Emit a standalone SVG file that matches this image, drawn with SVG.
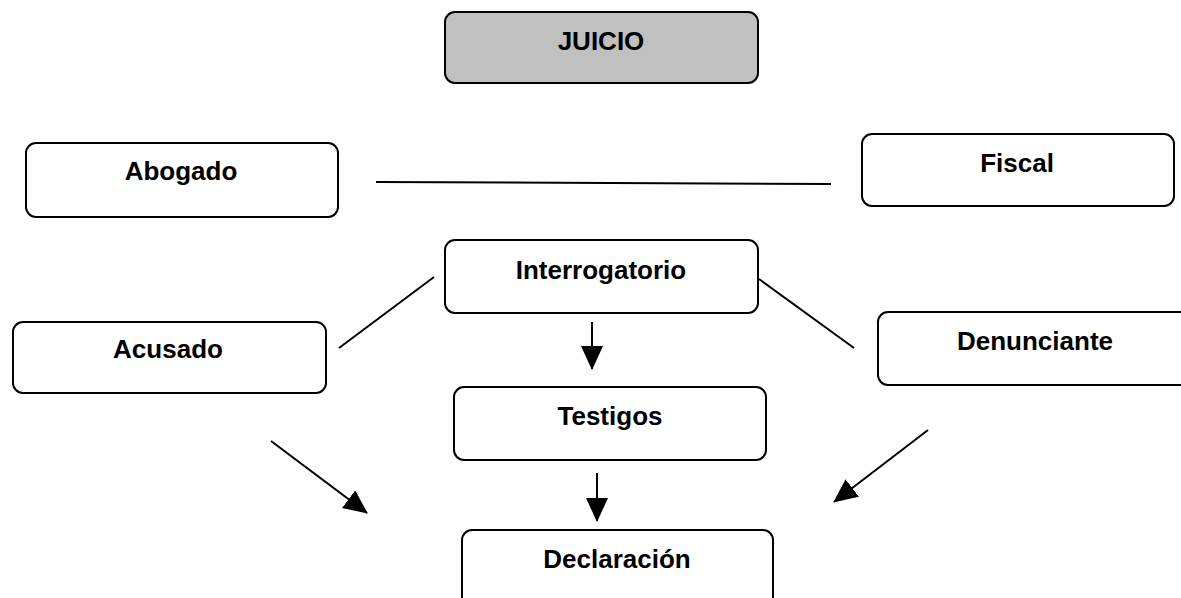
<svg xmlns="http://www.w3.org/2000/svg" width="1181" height="598" viewBox="0 0 1181 598">
  <style>
    .box { fill: #ffffff; stroke: #000000; stroke-width: 2; }
    .grey { fill: #c0c0c0; }
    .lbl { font-family: "Liberation Sans", Arial, sans-serif; font-weight: bold; font-size: 26px; fill: #000000; text-anchor: middle; }
    .ln { stroke: #000000; stroke-width: 2; fill: none; }
  </style>
  <defs>
    <marker id="ah" markerUnits="userSpaceOnUse" markerWidth="26" markerHeight="24" refX="23" refY="11" orient="auto">
      <path d="M0,0 L24,11 L0,22 z" fill="#000000"/>
    </marker>
  </defs>
  <rect width="1181" height="598" fill="#ffffff"/>

  <g id="connectors">
    <line class="ln" x1="376" y1="182" x2="831" y2="184"/>
    <line class="ln" x1="434" y1="277" x2="339" y2="348"/>
    <line class="ln" x1="759" y1="279" x2="854" y2="348"/>
    <line class="ln" x1="592" y1="322" x2="592" y2="369" marker-end="url(#ah)"/>
    <line class="ln" x1="597" y1="473" x2="597" y2="521" marker-end="url(#ah)"/>
    <line class="ln" x1="271" y1="441" x2="367" y2="513" marker-end="url(#ah)"/>
    <line class="ln" x1="928" y1="430" x2="834" y2="502" marker-end="url(#ah)"/>
  </g>

  <g id="juicio">
    <rect class="box grey" x="445" y="12" width="313" height="71" rx="10"/>
    <text class="lbl" x="601" y="50">JUICIO</text>
  </g>
  <g id="abogado">
    <rect class="box" x="26" y="143" width="312" height="74" rx="10"/>
    <text class="lbl" x="181" y="180">Abogado</text>
  </g>
  <g id="fiscal">
    <rect class="box" x="862" y="134" width="312" height="72" rx="10"/>
    <text class="lbl" x="1017" y="172">Fiscal</text>
  </g>
  <g id="interrogatorio">
    <rect class="box" x="445" y="240" width="313" height="73" rx="10"/>
    <text class="lbl" x="601" y="279">Interrogatorio</text>
  </g>
  <g id="acusado">
    <rect class="box" x="13" y="322" width="313" height="71" rx="10"/>
    <text class="lbl" x="168" y="358">Acusado</text>
  </g>
  <g id="denunciante">
    <rect class="box" x="878" y="312" width="314" height="73" rx="10"/>
    <text class="lbl" x="1035" y="350">Denunciante</text>
  </g>
  <g id="testigos">
    <rect class="box" x="454" y="387" width="312" height="73" rx="10"/>
    <text class="lbl" x="610" y="425">Testigos</text>
  </g>
  <g id="declaracion">
    <rect class="box" x="462" y="530" width="311" height="80" rx="10"/>
    <text class="lbl" x="617" y="568">Declaración</text>
  </g>
</svg>
